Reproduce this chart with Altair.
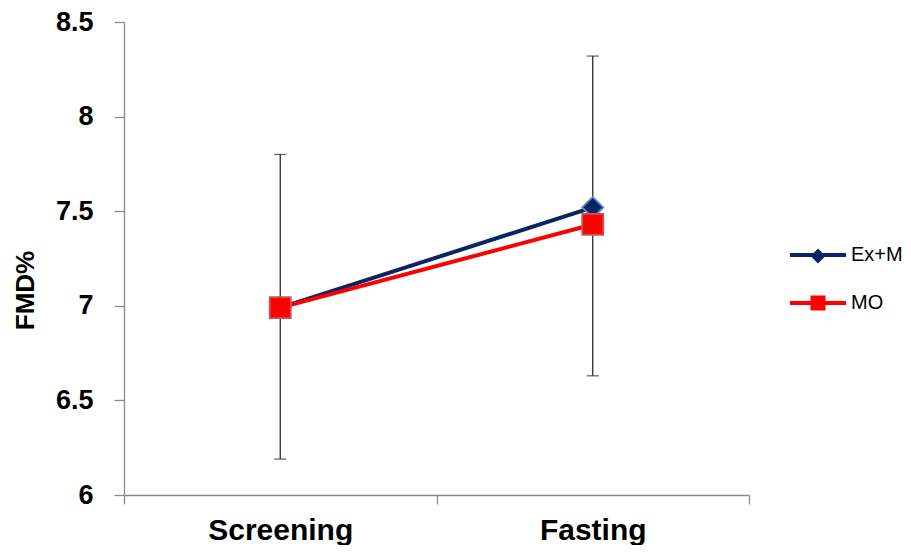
import altair as alt
import pandas as pd

categories = ["Screening", "Fasting"]
series_names = ["Ex+M", "MO"]
exm_values = [6.99, 7.52]
mo_values = [6.99, 7.43]
err_low = [6.19, 6.63]
err_high = [7.80, 8.32]
y_ticks = [6, 6.5, 7, 7.5, 8, 8.5]

line_colors = ["#0B2463", "#FF0000"]
edge_colors = ["#5A86C4", "#C95454"]
shapes = ["diamond", "square"]

rows = []
for i, (s, vals) in enumerate(zip(series_names, [exm_values, mo_values])):
    for c, v in zip(categories, vals):
        rows.append({"category": c, "series": s, "idx": i, "value": v})
df = pd.DataFrame(rows)
err = pd.DataFrame({"category": categories, "low": err_low, "high": err_high})

axis_gray = "#8A8A8A"
FONT = "Liberation Sans"

x_enc = alt.X(
    "category:N",
    sort=categories,
    scale=alt.Scale(paddingInner=0, paddingOuter=0),
    axis=alt.Axis(
        title=None, labelAngle=0, labelFontSize=30, labelFontWeight="bold",
        labelFont=FONT, labelColor="#000000", tickBand="extent", tickSize=9,
        labelPadding=11, domainColor=axis_gray, tickColor=axis_gray,
        domainWidth=1.3, tickWidth=1.3, grid=False,
    ),
)
y_scale = alt.Scale(domain=[6, 8.5], nice=False, zero=False)
y_axis = alt.Axis(
    title="FMD%", values=y_ticks, format=".1~f", labelFontSize=27,
    labelFontWeight="bold", labelFont=FONT, labelColor="#000000",
    tickSize=10, labelPadding=21, domainColor=axis_gray, tickColor=axis_gray,
    domainWidth=1.3, tickWidth=1.3, grid=False,
    titleFontSize=26, titleFont=FONT, titleFontWeight="bold", titleColor="#000000",
    titleAngle=270, titleX=-91, titleY=268, titleAlign="center", titleBaseline="alphabetic",
)

base_err = alt.Chart(err)
err_rule = base_err.mark_rule(color="#2A2A2A", strokeWidth=1.3).encode(
    x=x_enc,
    y=alt.Y("low:Q", scale=y_scale, axis=y_axis),
    y2="high:Q",
)
err_top = base_err.mark_tick(color="#2A2A2A", thickness=1.3, size=12).encode(
    x=x_enc, y=alt.Y("high:Q", scale=y_scale)
)
err_bot = base_err.mark_tick(color="#2A2A2A", thickness=1.3, size=12).encode(
    x=x_enc, y=alt.Y("low:Q", scale=y_scale)
)

lines = alt.Chart(df).mark_line(strokeWidth=4).encode(
    x=x_enc,
    y=alt.Y("value:Q", scale=y_scale),
    stroke=alt.Stroke(
        "series:N",
        scale=alt.Scale(domain=series_names, range=line_colors),
        legend=alt.Legend(
            title=None, orient="none", legendX=664, legendY=203,
            symbolType="stroke", symbolSize=3136, symbolStrokeWidth=4,
            labelFontSize=20, labelFont=FONT, labelColor="#000000",
            labelOffset=3, rowPadding=8, padding=0,
        ),
    ),
    detail="series:N",
)

marker_legend = alt.Legend(
    title=None, orient="none", legendX=684, legendY=224,
    symbolSize=225, symbolStrokeWidth=0, labelOpacity=0,
    labelFontSize=20, rowPadding=27, padding=0,
)

points = alt.Chart(df).mark_point(filled=True, opacity=1, strokeWidth=1.8, size=441).encode(
    x=x_enc,
    y=alt.Y("value:Q", scale=y_scale),
    fill=alt.Fill("idx:N", scale=alt.Scale(range=line_colors), legend=marker_legend),
    shape=alt.Shape("idx:N", scale=alt.Scale(range=shapes), legend=marker_legend),
    stroke=alt.Stroke("idx:N", scale=alt.Scale(range=edge_colors), legend=None),
    order=alt.Order("idx:Q"),
)

chart = (
    alt.layer(err_rule, err_top, err_bot, lines, points)
    .resolve_scale(stroke="independent")
    .properties(
        width=625, height=473,
        autosize=alt.AutoSizeParams(type="none"),
        padding={"left": 116, "top": 14, "right": 154, "bottom": 50},
        background="#FFFFFF",
    )
    .configure_view(stroke=None)
)

chart.save("out.html", embed_options={"renderer": "svg", "actions": False})
